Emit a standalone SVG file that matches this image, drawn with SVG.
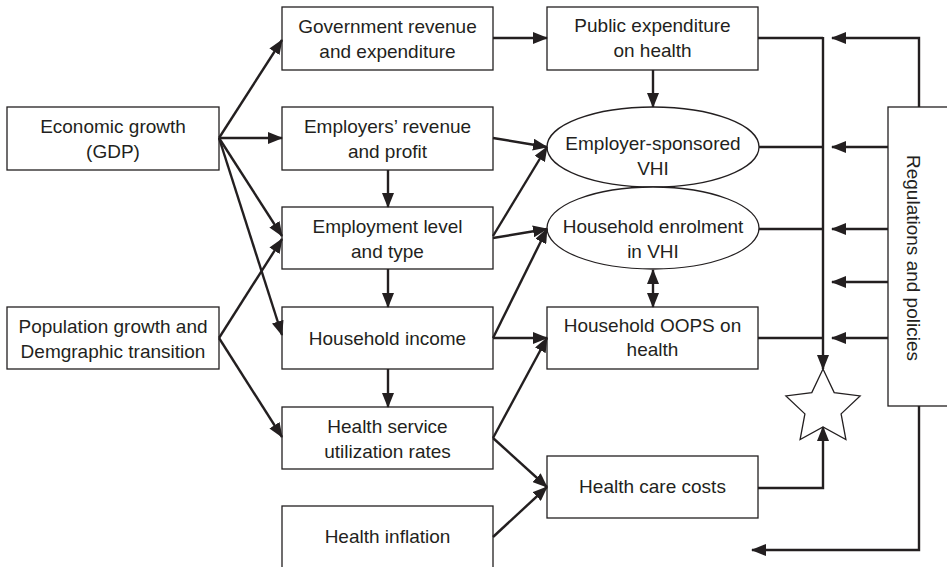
<svg xmlns="http://www.w3.org/2000/svg" width="947" height="567" viewBox="0 0 947 567">
<defs>
<marker id="ah" viewBox="0 0 15 12" refX="14" refY="6" markerWidth="15" markerHeight="12" markerUnits="userSpaceOnUse" orient="auto-start-reverse">
<path d="M0,0 L15,6 L0,12 z" fill="#231f20"/>
</marker>
<style>
.box{fill:#fff;stroke:#231f20;stroke-width:1.3}
.t{font-family:"Liberation Sans",Arial,sans-serif;font-size:19px;fill:#231f20;text-anchor:middle}
.c{fill:none;stroke:#231f20;stroke-width:2.4}
.a{marker-end:url(#ah)}
</style>
</defs>
<rect width="947" height="567" fill="#fff"/>

<g id="econ"><rect class="box" x="7" y="107" width="212" height="63"/>
<text class="t" x="113" y="133">Economic growth</text><text class="t" x="113" y="158">(GDP)</text></g>
<g id="pop"><rect class="box" x="7" y="307" width="212" height="62"/>
<text class="t" x="113" y="333">Population growth and</text><text class="t" x="113" y="358">Demgraphic transition</text></g>

<g id="gov"><rect class="box" x="282" y="7" width="211" height="63"/>
<text class="t" x="387.5" y="33">Government revenue</text><text class="t" x="387.5" y="58">and expenditure</text></g>
<g id="employers"><rect class="box" x="282" y="107" width="211" height="63"/>
<text class="t" x="387.5" y="133">Employers’ revenue</text><text class="t" x="387.5" y="158">and profit</text></g>
<g id="employment"><rect class="box" x="282" y="207" width="211" height="62"/>
<text class="t" x="387.5" y="233">Employment level</text><text class="t" x="387.5" y="258">and type</text></g>
<g id="hhincome"><rect class="box" x="282" y="307" width="211" height="62"/>
<text class="t" x="387.5" y="345">Household income</text></g>
<g id="utilization"><rect class="box" x="282" y="407" width="211" height="62"/>
<text class="t" x="387.5" y="433">Health service</text><text class="t" x="387.5" y="458">utilization rates</text></g>
<g id="inflation"><rect class="box" x="282" y="506" width="211" height="66"/>
<text class="t" x="387.5" y="543">Health inflation</text></g>

<g id="public"><rect class="box" x="547" y="7" width="211" height="63"/>
<text class="t" x="652.5" y="32">Public expenditure</text><text class="t" x="652.5" y="57">on health</text></g>
<g id="empvhi"><ellipse class="box" cx="653" cy="147" rx="106" ry="40"/>
<text class="t" x="653" y="150">Employer-sponsored</text><text class="t" x="653" y="175">VHI</text></g>
<g id="hhvhi"><ellipse class="box" cx="653" cy="228" rx="106" ry="41"/>
<text class="t" x="653" y="233">Household enrolment</text><text class="t" x="653" y="258">in VHI</text></g>
<g id="oops"><rect class="box" x="547" y="307" width="211" height="62"/>
<text class="t" x="652.5" y="332">Household OOPS on</text><text class="t" x="652.5" y="356">health</text></g>
<g id="costs"><rect class="box" x="547" y="456" width="211" height="62"/>
<text class="t" x="652.5" y="493">Health care costs</text></g>

<g id="star"><polygon class="box" points="823,369 834.2,392.6 860.1,395.9 841.1,413.9 845.9,439.6 823,427 800.1,439.6 804.9,413.9 785.9,395.9 811.8,392.6"/></g>

<g id="regs"><rect class="box" x="888" y="107" width="70" height="299"/>
<text class="t" transform="translate(907,258) rotate(90)">Regulations and policies</text></g>

<g id="connectors">
<line class="c a" x1="219" y1="138" x2="282" y2="40"/>
<line class="c a" x1="219" y1="138" x2="282" y2="138"/>
<line class="c a" x1="219" y1="138" x2="282" y2="236"/>
<line class="c a" x1="219" y1="138" x2="282" y2="335"/>
<line class="c a" x1="219" y1="338" x2="282" y2="239"/>
<line class="c a" x1="219" y1="338" x2="282" y2="437"/>
<line class="c a" x1="493" y1="38" x2="547" y2="38"/>
<line class="c a" x1="388" y1="170" x2="388" y2="207"/>
<line class="c a" x1="388" y1="269" x2="388" y2="307"/>
<line class="c a" x1="388" y1="369" x2="388" y2="407"/>
<line class="c a" x1="493" y1="138" x2="547" y2="147"/>
<line class="c a" x1="493" y1="236" x2="547" y2="147"/>
<line class="c a" x1="493" y1="238" x2="547" y2="229"/>
<line class="c a" x1="493" y1="338" x2="547" y2="229"/>
<line class="c a" x1="493" y1="338" x2="547" y2="338"/>
<line class="c a" x1="493" y1="438" x2="547" y2="338"/>
<line class="c a" x1="493" y1="438" x2="547" y2="487"/>
<line class="c a" x1="493" y1="537" x2="547" y2="487"/>
<line class="c a" x1="653" y1="70" x2="653" y2="107"/>
<line class="c a" x1="653" y1="270" x2="653" y2="307" style="marker-start:url(#ah)"/>
<line class="c" x1="758" y1="38" x2="823" y2="38"/>
<line class="c" x1="759" y1="147" x2="823" y2="147"/>
<line class="c" x1="759" y1="229" x2="823" y2="229"/>
<line class="c" x1="758" y1="338" x2="823" y2="338"/>
<line class="c a" x1="823" y1="37" x2="823" y2="369"/>
<polyline class="c a" points="758,488 823,488 823,427"/>
<polyline class="c a" points="919,107 919,38 832,38"/>
<line class="c a" x1="888" y1="147" x2="832" y2="147"/>
<line class="c a" x1="888" y1="229" x2="832" y2="229"/>
<line class="c a" x1="888" y1="282" x2="832" y2="282"/>
<line class="c a" x1="888" y1="338" x2="832" y2="338"/>
<polyline class="c a" points="919,406 919,550 752,550"/>
</g>
</svg>
